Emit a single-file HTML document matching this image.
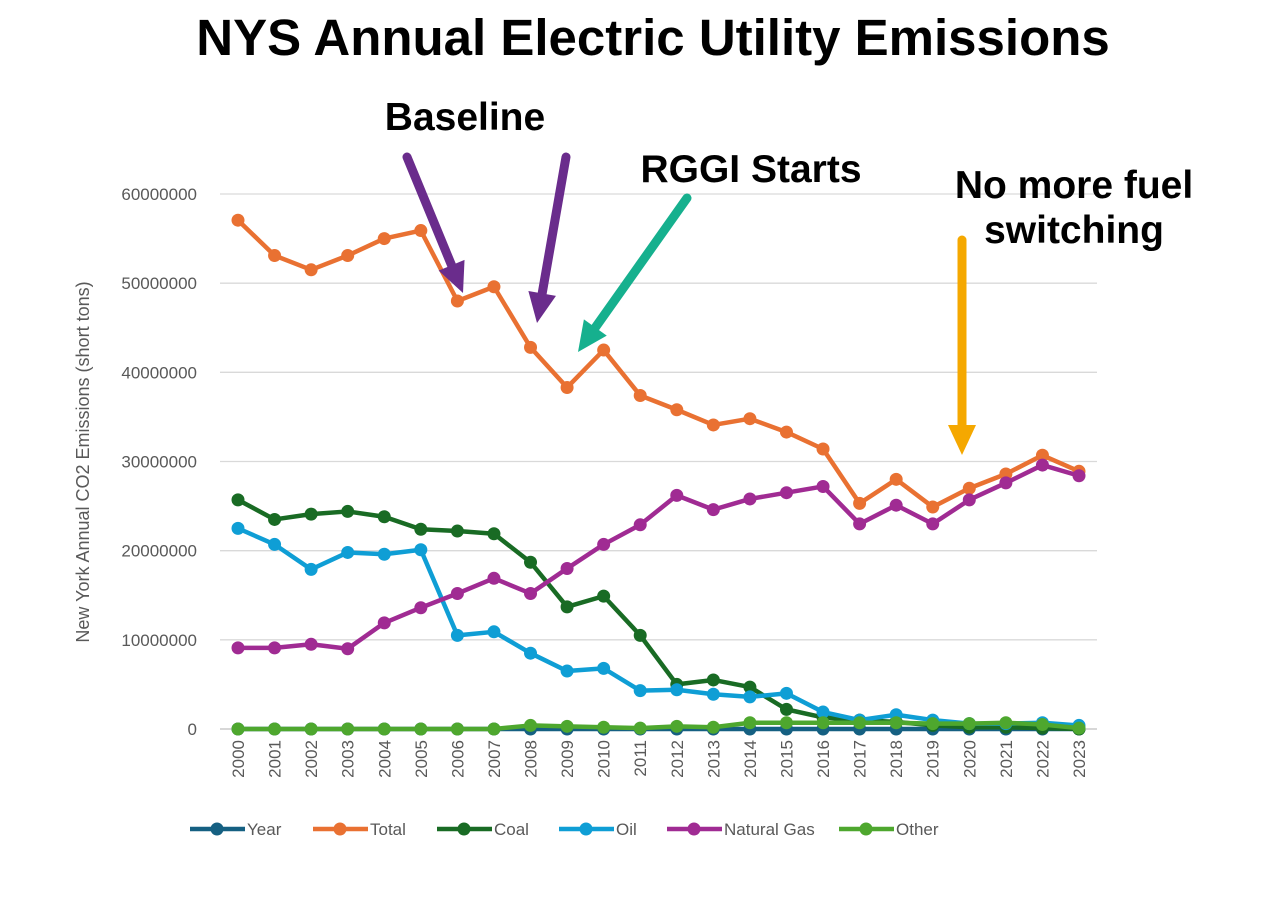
<!DOCTYPE html>
<html><head><meta charset="utf-8"><style>
html,body{margin:0;padding:0;background:#fff;}
svg{display:block;font-family:"Liberation Sans",Arial,sans-serif;}
</style></head><body>
<svg id="chart" width="1272" height="898" viewBox="0 0 1272 898" xmlns="http://www.w3.org/2000/svg">
<rect width="1272" height="898" fill="#fff"/>
<text x="653" y="55" text-anchor="middle" font-size="51" font-weight="bold" fill="#000">NYS Annual Electric Utility Emissions</text>
<g id="grid"></g>
<g id="yticks"></g>
<g id="xticks"></g>
<text transform="translate(89,462) rotate(-90)" text-anchor="middle" font-size="18" fill="#595959">New York Annual CO2 Emissions (short tons)</text>
<g id="series"></g>
<g id="legend"></g>
<g id="annotations">
<text x="465" y="130" text-anchor="middle" font-size="39" font-weight="bold">Baseline</text>
<text x="751" y="182" text-anchor="middle" font-size="39" font-weight="bold">RGGI Starts</text>
<text x="1074" y="198" text-anchor="middle" font-size="39" font-weight="bold">No more fuel</text>
<text x="1074" y="243" text-anchor="middle" font-size="39" font-weight="bold">switching</text>
</g>
</svg>
<script>
const years=["2000","2001","2002","2003","2004","2005","2006","2007","2008","2009","2010","2011","2012","2013","2014","2015","2016","2017","2018","2019","2020","2021","2022","2023"];
const yearVals=[2000,2001,2002,2003,2004,2005,2006,2007,2008,2009,2010,2011,2012,2013,2014,2015,2016,2017,2018,2019,2020,2021,2022,2023];
const totalVals=[57.06,53.1,51.5,53.1,55.0,55.9,48.0,49.6,42.8,38.3,42.5,37.4,35.8,34.1,34.8,33.3,31.4,25.3,28.0,24.9,27.0,28.6,30.7,28.9].map(v=>v*1e6);
const coalVals=[25.7,23.5,24.1,24.4,23.8,22.4,22.2,21.9,18.7,13.7,14.9,10.5,5.0,5.5,4.7,2.2,1.3,1.0,0.8,0.4,0.2,0.2,0.1,0].map(v=>v*1e6);
const oilVals=[22.5,20.7,17.9,19.8,19.6,20.1,10.5,10.9,8.5,6.5,6.8,4.3,4.4,3.9,3.6,4.0,1.9,1.0,1.6,1.0,0.6,0.6,0.7,0.4].map(v=>v*1e6);
const gasVals=[9.1,9.1,9.5,9.0,11.9,13.6,15.2,16.9,15.2,18.0,20.7,22.9,26.2,24.6,25.8,26.5,27.2,23.0,25.1,23.0,25.7,27.6,29.6,28.4].map(v=>v*1e6);
const otherVals=[0,0,0,0,0,0,0,0,0.4,0.3,0.2,0.1,0.3,0.2,0.7,0.7,0.7,0.7,0.7,0.6,0.6,0.7,0.5,0.1].map(v=>v*1e6);
const yTicks=[0,10000000,20000000,30000000,40000000,50000000,60000000];
const seriesNames=["Year","Total","Coal","Oil","Natural Gas","Other"];

const NS="http://www.w3.org/2000/svg";
const X0=238,X1=1079,Y0=729,Y1=194,YMAX=60000000;
const xs=i=>X0+(X1-X0)*i/(years.length-1);
const ys=v=>Y0-(Y0-Y1)*v/YMAX;
function mk(tag,attrs,parent){const e=document.createElementNS(NS,tag);for(const k in attrs)e.setAttribute(k,attrs[k]);parent.appendChild(e);return e;}
const grid=document.getElementById('grid'),yt=document.getElementById('yticks'),xt=document.getElementById('xticks');
yTicks.forEach(t=>{
 const l=mk('line',{x1:220,x2:1097,y1:ys(t),y2:ys(t),stroke:t===0?'#bfbfbf':'#d9d9d9','stroke-width':1.3},grid);
 
 
 const tx=mk('text',{x:197,y:ys(t)+6,'text-anchor':'end','font-size':17,fill:'#595959'},yt);
 tx.textContent=String(t);
 
 
});
years.forEach((y,i)=>{
 const tx=mk('text',{transform:`translate(${xs(i)+6},740) rotate(-90)`,'text-anchor':'end','font-size':17,fill:'#595959'},xt);
 tx.textContent=y;
 
 
});
const colors=["#156082","#E97132","#196B24","#0F9ED5","#A02B93","#4EA72E"];
const data=[yearVals,totalVals,coalVals,oilVals,gasVals,otherVals];
const sg=document.getElementById('series');
data.forEach((vals,si)=>{
 const g=mk('g',{},sg);
 
 
 const pts=vals.map((v,i)=>xs(i)+','+ys(v)).join(' ');
 const pl=mk('polyline',{points:pts,fill:'none',stroke:colors[si],'stroke-width':4.5,'stroke-linejoin':'round'},g);
 
 
 vals.forEach((v,i)=>{
  const c=mk('circle',{cx:xs(i),cy:ys(v),r:6.5,fill:colors[si]},g);
  
  
 });
});
const lg=document.getElementById('legend');
const lx=[190,313,437,559,667,839];
seriesNames.forEach((n,i)=>{
 const g=mk('g',{},lg);
 
 
 mk('line',{x1:lx[i],x2:lx[i]+55,y1:829,y2:829,stroke:colors[i],'stroke-width':4.5},g);
 mk('circle',{cx:lx[i]+27,cy:829,r:6.5,fill:colors[i]},g);
 const t=mk('text',{x:lx[i]+57,y:835,'font-size':17,fill:'#595959'},g);
 t.textContent=n;
});
const an=document.getElementById('annotations');
function arrow(x1,y1,x2,y2,col,name){
 const dx=x2-x1,dy=y2-y1,L=Math.hypot(dx,dy),ux=dx/L,uy=dy/L,px=-uy,py=ux,h=30,w=14;
 const bx=x2-ux*h,by=y2-uy*h;
 const g=mk('g',{},an);
 
 
 mk('line',{x1:x1,y1:y1,x2:bx,y2:by,stroke:col,'stroke-width':9,'stroke-linecap':'round'},g);
 mk('polygon',{points:`${x2},${y2} ${bx+px*w},${by+py*w} ${bx-px*w},${by-py*w}`,fill:col},g);
}
arrow(407,157,463,293,'#6A2C8C','baseline-arrow-1');
arrow(566,157,537,323,'#6A2C8C','baseline-arrow-2');
arrow(687,198,578,352,'#16B08E','rggi-arrow');
arrow(962,240,962,455,'#F5A800','fuel-switching-arrow');
</script>
</body></html>
